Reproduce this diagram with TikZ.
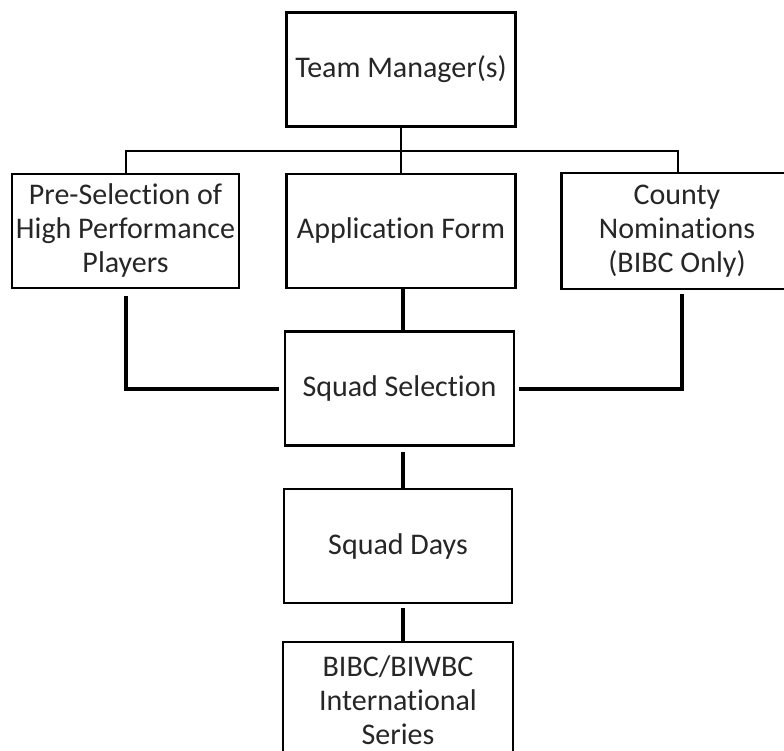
\documentclass[tikz,border=0pt]{standalone}
\usepackage{fontspec}
\setmainfont[Ligatures=NoCommon]{Carlito}
\begin{document}
\begin{tikzpicture}[x=1pt,y=-1pt,
  box/.style={draw=black,line width=2.2pt,rectangle,inner sep=0pt,align=center,
    minimum width=229pt,minimum height=114pt,font=\fontsize{30}{34}\selectfont,text=black!85},
  openbox/.style={box,draw=none},
  border/.style={line width=2.2pt},
  thin/.style={line width=2.2pt},
  thick/.style={line width=4pt}]
\useasboundingbox (0,0) rectangle (784,751);
\node[box] (tm) at (401,69.5) {Team Manager(s)};
\node[box,minimum width=227pt] (pre) at (125.5,231) {Pre-Selection of\\High Performance\\Players};
\node[box] (app) at (401,231) {Application Form};
\node[openbox] (cty) at (677,231) {County\\Nominations\\(BIBC Only)};
\coordinate (edge) at (784,0);
\draw[border] (cty.north -| edge) -- (cty.north west) -- (cty.south west) -- (cty.south -| edge);
\node[openbox,minimum width=228pt] (bibc) at (398,700) {BIBC/BIWBC\\International\\Series};
\coordinate (bot) at (0,751);
\draw[border] (bibc.west |- bot) -- (bibc.north west) -- (bibc.north east) -- (bibc.east |- bot);
\node[box] (sel) at (399.5,388.5) {Squad Selection};
\node[box,minimum width=228pt] (days) at (398,546) {Squad Days};
\coordinate (hl) at (126,151);
\coordinate (hr) at (678,151);
\coordinate (rc) at (682,0);
\draw[thin] (tm.south) -- (tm.south |- app.north);
\draw[thin] (pre.north -| hl) -- (hl) -- (hr) -- (cty.north -| hr);
\draw[thick,shorten <=7pt,shorten >=5pt] (pre.south -| hl) |- (sel.west);
\draw[thick,shorten <=5pt,shorten >=4pt] (cty.south -| rc) |- (sel.east);
\draw[thick] ([xshift=2pt]app.south) -- ([xshift=2pt]app.south |- sel.north);
\draw[thick,shorten <=5pt] ([xshift=3.5pt]sel.south) -- ([xshift=3.5pt]sel.south |- days.north);
\draw[thick,shorten <=4pt] ([xshift=5pt]days.south) -- ([xshift=5pt]days.south |- bibc.north);
\end{tikzpicture}
\end{document}
